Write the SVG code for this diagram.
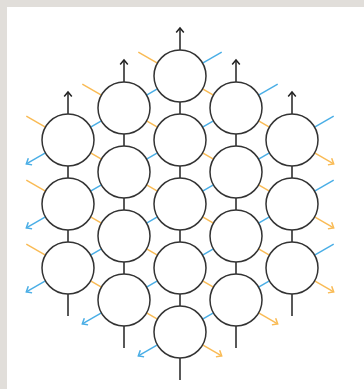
<svg xmlns="http://www.w3.org/2000/svg" width="364" height="389" viewBox="0 0 364 389">
<defs>
<style>
.node{fill:#ffffff;stroke:#333333;stroke-width:1.5}
.k{stroke:#222222;stroke-width:1.5;fill:none}
.b{stroke:#4aaee6;stroke-width:1.5;fill:none}
.o{stroke:#f9bb55;stroke-width:1.5;fill:none}
</style>
<marker id="ak" viewBox="-6 -5 7 10" markerWidth="7" markerHeight="10" refX="0" refY="0" orient="auto" markerUnits="userSpaceOnUse" overflow="visible"><path d="M-4.5,-3.8 L0,0 L-4.5,3.8" fill="none" stroke="#222222" stroke-width="1.5"/></marker>
<marker id="ab" viewBox="-6 -5 7 10" markerWidth="7" markerHeight="10" refX="0" refY="0" orient="auto" markerUnits="userSpaceOnUse" overflow="visible"><path d="M-4.5,-3.8 L0,0 L-4.5,3.8" fill="none" stroke="#4aaee6" stroke-width="1.5"/></marker>
<marker id="ao" viewBox="-6 -5 7 10" markerWidth="7" markerHeight="10" refX="0" refY="0" orient="auto" markerUnits="userSpaceOnUse" overflow="visible"><path d="M-4.5,-3.8 L0,0 L-4.5,3.8" fill="none" stroke="#f9bb55" stroke-width="1.5"/></marker>
</defs>
<rect x="0" y="0" width="364" height="389" fill="#e1deda"/>
<rect x="7" y="7" width="357" height="382" fill="#ffffff"/>
<g id="connectors">
<g class="k">
<line x1="68" y1="166" x2="68" y2="178"/><line x1="68" y1="230" x2="68" y2="242"/>
<line x1="124" y1="134" x2="124" y2="146"/><line x1="124" y1="198" x2="124" y2="210"/><line x1="124" y1="262" x2="124" y2="274"/>
<line x1="180" y1="102" x2="180" y2="114"/><line x1="180" y1="166" x2="180" y2="178"/><line x1="180" y1="230" x2="180" y2="242"/><line x1="180" y1="294" x2="180" y2="306"/>
<line x1="236" y1="134" x2="236" y2="146"/><line x1="236" y1="198" x2="236" y2="210"/><line x1="236" y1="262" x2="236" y2="274"/>
<line x1="292" y1="166" x2="292" y2="178"/><line x1="292" y1="230" x2="292" y2="242"/>
<line x1="68" y1="114" x2="68" y2="92" marker-end="url(#ak)"/>
<line x1="124" y1="82" x2="124" y2="60" marker-end="url(#ak)"/>
<line x1="180" y1="50" x2="180" y2="28" marker-end="url(#ak)"/>
<line x1="236" y1="82" x2="236" y2="60" marker-end="url(#ak)"/>
<line x1="292" y1="114" x2="292" y2="92" marker-end="url(#ak)"/>
<line x1="68" y1="294" x2="68" y2="316"/>
<line x1="124" y1="326" x2="124" y2="348"/>
<line x1="180" y1="358" x2="180" y2="380"/>
<line x1="236" y1="326" x2="236" y2="348"/>
<line x1="292" y1="294" x2="292" y2="316"/>
</g>
<g class="b">
<line x1="90.6" y1="127.1" x2="101.4" y2="120.9"/>
<line x1="90.6" y1="191.1" x2="101.4" y2="184.9"/>
<line x1="90.6" y1="255.1" x2="101.4" y2="248.9"/>
<line x1="146.6" y1="95.1" x2="157.4" y2="88.9"/>
<line x1="146.6" y1="159.1" x2="157.4" y2="152.9"/>
<line x1="146.6" y1="223.1" x2="157.4" y2="216.9"/>
<line x1="146.6" y1="287.1" x2="157.4" y2="280.9"/>
<line x1="202.6" y1="127.1" x2="213.4" y2="120.9"/>
<line x1="202.6" y1="191.1" x2="213.4" y2="184.9"/>
<line x1="202.6" y1="255.1" x2="213.4" y2="248.9"/>
<line x1="202.6" y1="319.1" x2="213.4" y2="312.9"/>
<line x1="258.6" y1="159.1" x2="269.4" y2="152.9"/>
<line x1="258.6" y1="223.1" x2="269.4" y2="216.9"/>
<line x1="258.6" y1="287.1" x2="269.4" y2="280.9"/>
<line x1="202.6" y1="63.1" x2="221.7" y2="52.2"/>
<line x1="258.6" y1="95.1" x2="277.7" y2="84.2"/>
<line x1="314.6" y1="127.1" x2="333.7" y2="116.2"/>
<line x1="314.6" y1="191.1" x2="333.7" y2="180.2"/>
<line x1="314.6" y1="255.1" x2="333.7" y2="244.2"/>
<line x1="45.4" y1="152.9" x2="26.3" y2="163.8" marker-end="url(#ab)"/>
<line x1="45.4" y1="216.9" x2="26.3" y2="227.8" marker-end="url(#ab)"/>
<line x1="45.4" y1="280.9" x2="26.3" y2="291.8" marker-end="url(#ab)"/>
<line x1="101.4" y1="312.9" x2="82.3" y2="323.8" marker-end="url(#ab)"/>
<line x1="157.4" y1="344.9" x2="138.3" y2="355.8" marker-end="url(#ab)"/>
</g>
<g class="o">
<line x1="90.6" y1="152.9" x2="101.4" y2="159.1"/>
<line x1="90.6" y1="216.9" x2="101.4" y2="223.1"/>
<line x1="90.6" y1="280.9" x2="101.4" y2="287.1"/>
<line x1="146.6" y1="120.9" x2="157.4" y2="127.1"/>
<line x1="146.6" y1="184.9" x2="157.4" y2="191.1"/>
<line x1="146.6" y1="248.9" x2="157.4" y2="255.1"/>
<line x1="146.6" y1="312.9" x2="157.4" y2="319.1"/>
<line x1="202.6" y1="88.9" x2="213.4" y2="95.1"/>
<line x1="202.6" y1="152.9" x2="213.4" y2="159.1"/>
<line x1="202.6" y1="216.9" x2="213.4" y2="223.1"/>
<line x1="202.6" y1="280.9" x2="213.4" y2="287.1"/>
<line x1="258.6" y1="120.9" x2="269.4" y2="127.1"/>
<line x1="258.6" y1="184.9" x2="269.4" y2="191.1"/>
<line x1="258.6" y1="248.9" x2="269.4" y2="255.1"/>
<line x1="45.4" y1="127.1" x2="26.3" y2="116.2"/>
<line x1="45.4" y1="191.1" x2="26.3" y2="180.2"/>
<line x1="45.4" y1="255.1" x2="26.3" y2="244.2"/>
<line x1="101.4" y1="95.1" x2="82.3" y2="84.2"/>
<line x1="157.4" y1="63.1" x2="138.3" y2="52.2"/>
<line x1="314.6" y1="152.9" x2="333.7" y2="163.8" marker-end="url(#ao)"/>
<line x1="314.6" y1="216.9" x2="333.7" y2="227.8" marker-end="url(#ao)"/>
<line x1="314.6" y1="280.9" x2="333.7" y2="291.8" marker-end="url(#ao)"/>
<line x1="258.6" y1="312.9" x2="277.7" y2="323.8" marker-end="url(#ao)"/>
<line x1="202.6" y1="344.9" x2="221.7" y2="355.8" marker-end="url(#ao)"/>
</g>
</g>
<g id="n0_0"><circle class="node" cx="68" cy="140" r="26"/></g>
<g id="n0_1"><circle class="node" cx="68" cy="204" r="26"/></g>
<g id="n0_2"><circle class="node" cx="68" cy="268" r="26"/></g>
<g id="n1_0"><circle class="node" cx="124" cy="108" r="26"/></g>
<g id="n1_1"><circle class="node" cx="124" cy="172" r="26"/></g>
<g id="n1_2"><circle class="node" cx="124" cy="236" r="26"/></g>
<g id="n1_3"><circle class="node" cx="124" cy="300" r="26"/></g>
<g id="n2_0"><circle class="node" cx="180" cy="76" r="26"/></g>
<g id="n2_1"><circle class="node" cx="180" cy="140" r="26"/></g>
<g id="n2_2"><circle class="node" cx="180" cy="204" r="26"/></g>
<g id="n2_3"><circle class="node" cx="180" cy="268" r="26"/></g>
<g id="n2_4"><circle class="node" cx="180" cy="332" r="26"/></g>
<g id="n3_0"><circle class="node" cx="236" cy="108" r="26"/></g>
<g id="n3_1"><circle class="node" cx="236" cy="172" r="26"/></g>
<g id="n3_2"><circle class="node" cx="236" cy="236" r="26"/></g>
<g id="n3_3"><circle class="node" cx="236" cy="300" r="26"/></g>
<g id="n4_0"><circle class="node" cx="292" cy="140" r="26"/></g>
<g id="n4_1"><circle class="node" cx="292" cy="204" r="26"/></g>
<g id="n4_2"><circle class="node" cx="292" cy="268" r="26"/></g>
</svg>
